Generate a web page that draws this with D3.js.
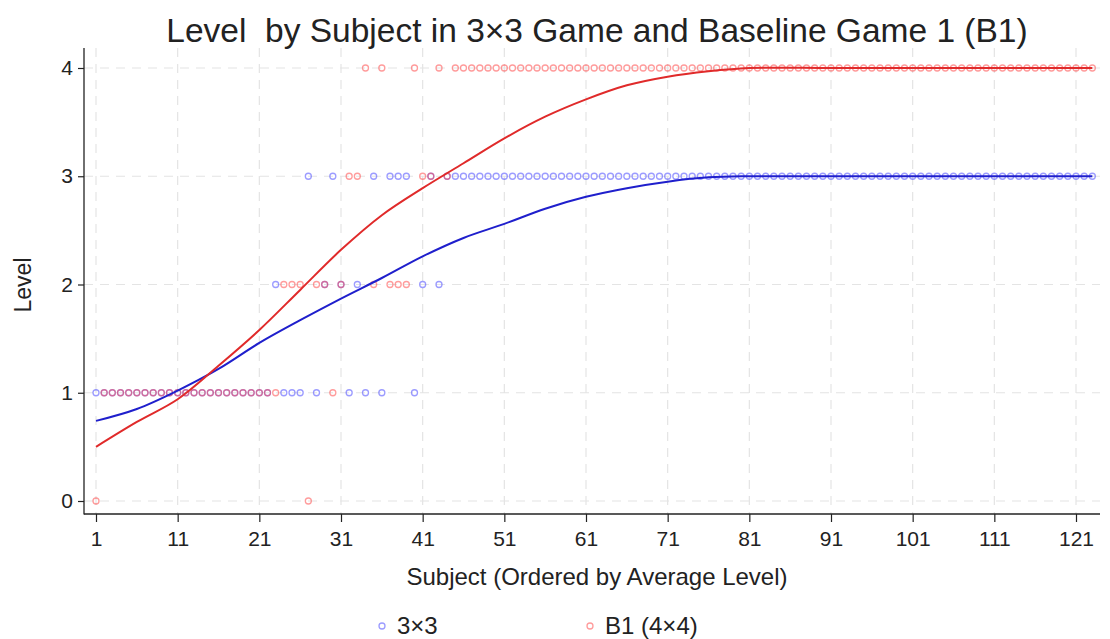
<!DOCTYPE html>
<html lang="en">
  <head>
    <meta charset="utf-8" />
    <title>Level by Subject</title>
    <script src="https://d3js.org/d3.v7.min.js" charset="utf-8"></script>
    <style>
      body { margin: 0; background: #fff; }
      text { font-family: "Liberation Sans", Arial, sans-serif; fill: #222; }
    </style>
  </head>
  <body>
    <div id="graph-container"></div>
    <script type="text/javascript">
      // levels per subject (subjects 1..44)
      const blueLevels = [
        1, 1, 1, 1, 1, 1, 1, 1, 1, 1, 1, 1, 1, 1, 1, 1, 1, 1, 1, 1, 1, 1,
        2, 1, 1, 1, 3, 1, 2, 3, 2, 1, 2, 1, 3, 1, 3, 3, 3, 1, 2, 3, 2, 3
      ];
      const redLevels = [
        0, 1, 1, 1, 1, 1, 1, 1, 1, 1, 1, 1, 1, 1, 1, 1, 1, 1, 1, 1, 1, 1,
        1, 2, 2, 2, 0, 2, 2, 1, 2, 3, 3, 4, 2, 4, 2, 2, 2, 4, 3, 3, 4, 3
      ];
      const nSubjects = 123;
      const blueTail = 3, redTail = 4; // subjects 45..123

      // fitted curves, read at these subjects
      const fitX = [1, 6, 11, 16, 21, 26, 31, 36, 41, 46, 51, 56, 61, 66, 71, 76, 81, 91, 101, 111, 123];
      const fitBlue = [0.74, 0.85, 1.02, 1.22, 1.46, 1.67, 1.87, 2.06, 2.26, 2.43, 2.56, 2.70, 2.81, 2.89, 2.95, 2.99, 3.0, 3.0, 3.0, 3.0, 3.0];
      const fitRed = [0.50, 0.73, 0.94, 1.25, 1.58, 1.95, 2.32, 2.64, 2.89, 3.12, 3.35, 3.55, 3.71, 3.84, 3.92, 3.97, 4.0, 4.0, 4.0, 4.0, 4.0];

      const xTicks = [1, 11, 21, 31, 41, 51, 61, 71, 81, 91, 101, 111, 121];
      const yTicks = [0, 1, 2, 3, 4];

      const cW = 1110, cH = 639;
      const pLeft = 84, pRight = 1100, pTop = 48, pBottom = 514;

      const svg = d3
        .select("#graph-container")
        .append("svg")
        .attr("width", cW)
        .attr("height", cH);

      const xScale = d3.scaleLinear().domain([1, 121]).range([96, 1076]);
      const yScale = d3.scaleLinear().domain([0, 4]).range([501, 68]);

      const blueColor = "#1f1fcc", redColor = "#e02a2a";

      // gridlines
      svg.append("g")
        .selectAll("line")
        .data(yTicks)
        .enter()
        .append("line")
        .attr("x1", pLeft).attr("x2", pRight)
        .attr("y1", (d) => yScale(d)).attr("y2", (d) => yScale(d))
        .attr("stroke", "#e4e4e4").attr("stroke-width", 1.2)
        .attr("stroke-dasharray", "9,7");
      svg.append("g")
        .selectAll("line")
        .data(xTicks)
        .enter()
        .append("line")
        .attr("x1", (d) => xScale(d)).attr("x2", (d) => xScale(d))
        .attr("y1", pTop).attr("y2", pBottom)
        .attr("stroke", "#e4e4e4").attr("stroke-width", 1.2)
        .attr("stroke-dasharray", "9,7");

      // axes
      const xAxis = d3.axisBottom(xScale).tickValues(xTicks).tickSize(8).tickPadding(9).tickSizeOuter(0);
      const gx = svg.append("g").attr("transform", `translate(0,${pBottom})`).call(xAxis);
      gx.select(".domain").remove();
      gx.selectAll("text").style("font-size", "21px");
      gx.selectAll("line").attr("stroke", "#222").attr("stroke-width", 1.2);

      const yAxis = d3.axisLeft(yScale).tickValues(yTicks).tickFormat(d3.format("d"))
        .tickSize(6).tickPadding(5).tickSizeOuter(0);
      const gy = svg.append("g").attr("transform", `translate(${pLeft},0)`).call(yAxis);
      gy.select(".domain").remove();
      gy.selectAll("text").style("font-size", "21px");
      gy.selectAll("line").attr("stroke", "#222").attr("stroke-width", 1.2);

      svg.append("line")
        .attr("x1", pLeft).attr("x2", pLeft).attr("y1", pTop).attr("y2", pBottom + 0.5)
        .attr("stroke", "#222").attr("stroke-width", 1.3);
      svg.append("line")
        .attr("x1", pLeft).attr("x2", pRight).attr("y1", pBottom).attr("y2", pBottom)
        .attr("stroke", "#222").attr("stroke-width", 1.3);

      // points
      const subjects = d3.range(1, nSubjects + 1);
      const bluePts = subjects.map((s) => [s, s <= blueLevels.length ? blueLevels[s - 1] : blueTail]);
      const redPts = subjects.map((s) => [s, s <= redLevels.length ? redLevels[s - 1] : redTail]);

      function drawPoints(pts, color) {
        svg.append("g")
          .selectAll("circle")
          .data(pts)
          .enter()
          .append("circle")
          .attr("cx", (d) => xScale(d[0]))
          .attr("cy", (d) => yScale(d[1]))
          .attr("r", 3)
          .attr("fill", "none")
          .attr("stroke", color)
          .attr("stroke-opacity", 0.5)
          .attr("stroke-width", 1.3);
      }
      drawPoints(bluePts, "#3a3aff");
      drawPoints(redPts, "#ff3a3a");

      // fit lines
      const line = d3.line()
        .x((d) => xScale(d[0]))
        .y((d) => yScale(d[1]))
        .curve(d3.curveCatmullRom.alpha(0.5));
      svg.append("path")
        .attr("d", line(fitX.map((x, i) => [x, fitBlue[i]])))
        .attr("fill", "none").attr("stroke", blueColor).attr("stroke-width", 2);
      svg.append("path")
        .attr("d", line(fitX.map((x, i) => [x, fitRed[i]])))
        .attr("fill", "none").attr("stroke", redColor).attr("stroke-width", 2);

      // titles
      svg.append("text")
        .attr("x", 597).attr("y", 42)
        .attr("text-anchor", "middle")
        .style("font-size", "33.5px")
        .style("white-space", "pre")
        .text("Level  by Subject in 3×3 Game and Baseline Game 1 (B1)");

      svg.append("text")
        .attr("x", 597).attr("y", 585)
        .attr("text-anchor", "middle")
        .style("font-size", "24px")
        .text("Subject (Ordered by Average Level)");

      svg.append("text")
        .attr("transform", "rotate(-90)")
        .attr("x", -285).attr("y", 31)
        .attr("text-anchor", "middle")
        .style("font-size", "23px")
        .text("Level");

      // legend
      const legend = [
        { label: "3×3", color: "#3a3aff", x: 382 },
        { label: "B1 (4×4)", color: "#ff3a3a", x: 590 }
      ];
      const lg = svg.append("g");
      lg.selectAll("circle")
        .data(legend)
        .enter()
        .append("circle")
        .attr("cx", (d) => d.x).attr("cy", 626).attr("r", 3)
        .attr("fill", "none").attr("stroke", (d) => d.color)
        .attr("stroke-opacity", 0.5).attr("stroke-width", 1.3);
      lg.selectAll("text")
        .data(legend)
        .enter()
        .append("text")
        .attr("x", (d) => d.x + 15).attr("y", 634)
        .style("font-size", "24px")
        .text((d) => d.label);
    </script>
  </body>
</html>
